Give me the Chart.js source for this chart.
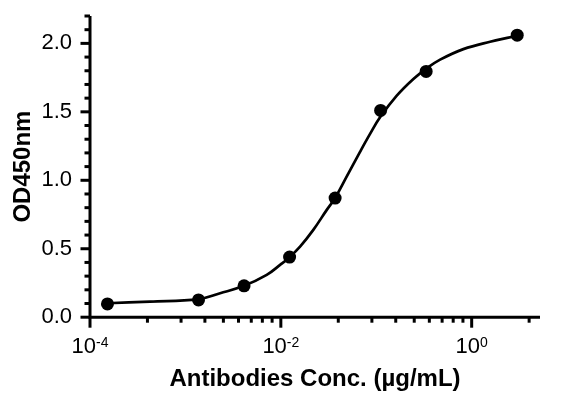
<!DOCTYPE html>
<html>
<head>
<meta charset="utf-8">
<script src="https://cdn.jsdelivr.net/npm/chart.js@4"></script>
<style>
    html, body { margin: 0; padding: 0; background: #fff; }
    #chart { display: block; }
</style>
</head>
<body>
<canvas id="chart" width="567" height="408"></canvas>
<script>
// Measured points (3-fold dilution series)
const concentrations = [0.0001524, 0.001372, 0.004115, 0.01235, 0.03704, 0.1111, 0.3333, 3.0];
const odValues = [0.097, 0.126, 0.229, 0.439, 0.870, 1.510, 1.795, 2.060];

// Fitted curve
const curveX = [0.0001524, 0.000426, 0.00137, 0.00231, 0.00411, 0.00711, 0.00982, 0.0120, 0.0159, 0.0219,
    0.0303, 0.0370, 0.0491, 0.0676, 0.0861, 0.1096, 0.164, 0.245, 0.338, 0.467, 0.818, 1.56, 3.0];
const curveY = [0.102, 0.114, 0.132, 0.175, 0.229, 0.309, 0.382, 0.431, 0.516, 0.638,
    0.784, 0.870, 1.028, 1.208, 1.339, 1.460, 1.618, 1.740, 1.818, 1.881, 1.958, 2.012, 2.056];

// Axes
const xMajorTicks = [0.0001, 0.01, 1];
const xTickExponents = ['-4', '-2', '0'];
const xMinorTicks = [0.0004, 0.0009, 0.0016, 0.0025, 0.0036, 0.0049, 0.0064, 0.0081,
    0.04, 0.09, 0.16, 0.25, 0.36, 0.49, 0.64, 0.81, 4];
const yMajorTicks = [0, 0.5, 1.0, 1.5, 2.0];
const yMinorTicks = [0.1, 0.2, 0.3, 0.4, 0.6, 0.7, 0.8, 0.9, 1.1, 1.2, 1.3, 1.4,
    1.6, 1.7, 1.8, 1.9, 2.1, 2.2];

const FONT = '"Liberation Sans", Arial, sans-serif';

// draws axis lines, tick marks and the 10^n labels
const axesPlugin = {
    id: 'axes',
    beforeDatasetsDraw(chart) {
        const ctx = chart.ctx;
        const xs = chart.scales.x;
        const ys = chart.scales.y;
        const x0 = xs.getPixelForValue(xMajorTicks[0]);
        const y0 = ys.getPixelForValue(0);
        const lw = 3;

        ctx.save();
        ctx.strokeStyle = '#000';
        ctx.lineWidth = lw;
        ctx.lineCap = 'butt';

        // axis lines
        ctx.beginPath();
        ctx.moveTo(x0, ys.getPixelForValue(2.2));
        ctx.lineTo(x0, y0 + lw / 2);
        ctx.moveTo(x0 - lw / 2, y0);
        ctx.lineTo(chart.chartArea.right, y0);
        ctx.stroke();

        const tick = (px, len, vertical) => {
            ctx.beginPath();
            if (vertical) {
                ctx.moveTo(px, y0);
                ctx.lineTo(px, y0 + lw / 2 + len);
            } else {
                ctx.moveTo(x0, px);
                ctx.lineTo(x0 - lw / 2 - len, px);
            }
            ctx.stroke();
        };

        xMajorTicks.forEach(v => tick(xs.getPixelForValue(v), 9, true));
        xMinorTicks.forEach(v => tick(xs.getPixelForValue(v), 4, true));
        yMajorTicks.forEach(v => tick(ys.getPixelForValue(v), 8, false));
        yMinorTicks.forEach(v => tick(ys.getPixelForValue(v), 4, false));

        // x tick labels with superscript exponents
        ctx.fillStyle = '#000';
        ctx.textBaseline = 'alphabetic';
        ctx.textAlign = 'left';
        xMajorTicks.forEach((v, i) => {
            const px = xs.getPixelForValue(v);
            ctx.font = '22px ' + FONT;
            const wBase = ctx.measureText('10').width;
            ctx.font = '14px ' + FONT;
            const wExp = ctx.measureText(xTickExponents[i]).width;
            const start = px - (wBase + wExp) / 2;
            ctx.font = '22px ' + FONT;
            ctx.fillText('10', start, y0 + 36);
            ctx.font = '14px ' + FONT;
            ctx.fillText(xTickExponents[i], start + wBase, y0 + 30);
        });
        ctx.restore();
    }
};

new Chart(document.getElementById('chart'), {
    type: 'line',
    data: {
        datasets: [
            {
                label: 'Fit',
                data: curveX.map((x, i) => ({ x: x, y: curveY[i] })),
                borderColor: '#000',
                borderWidth: 2.7,
                pointRadius: 0,
                tension: 0.4,
                fill: false
            },
            {
                label: 'OD450nm',
                data: concentrations.map((x, i) => ({ x: x, y: odValues[i] })),
                showLine: false,
                pointRadius: 6.5,
                pointBackgroundColor: '#000',
                pointBorderColor: '#000',
                pointBorderWidth: 0
            }
        ]
    },
    options: {
        responsive: false,
        devicePixelRatio: 1,
        animation: false,
        layout: { padding: { left: 5, right: 27, top: 16, bottom: 14 } },
        plugins: {
            legend: { display: false },
            tooltip: { enabled: false }
        },
        scales: {
            x: {
                type: 'logarithmic',
                min: 0.0001,
                max: 5.2,
                grid: { display: false, drawTicks: false },
                border: { display: false },
                ticks: { display: false },
                afterBuildTicks: (scale) => { scale.ticks = xMajorTicks.map(v => ({ value: v })); },
                title: {
                    display: true,
                    text: 'Antibodies Conc. (µg/mL)',
                    color: '#000',
                    font: { family: FONT, size: 24, weight: 'bold' },
                    padding: { top: 48, bottom: 0 }
                }
            },
            y: {
                min: 0,
                max: 2.2,
                grid: { display: false, drawTicks: false },
                border: { display: false },
                afterBuildTicks: (scale) => { scale.ticks = yMajorTicks.map(v => ({ value: v })); },
                afterFit: (scale) => {
                    scale.width = 85;
                    scale.paddingTop = 0;
                    scale.paddingBottom = 0;
                },
                ticks: {
                    color: '#000',
                    padding: 18,
                    font: { family: FONT, size: 22 },
                    callback: (v) => Number(v).toFixed(1)
                },
                title: {
                    display: true,
                    text: 'OD450nm',
                    color: '#000',
                    font: { family: FONT, size: 24, weight: 'bold' },
                    padding: { top: 4, bottom: 4 }
                }
            }
        }
    },
    plugins: [axesPlugin]
});
</script>
</body>
</html>
